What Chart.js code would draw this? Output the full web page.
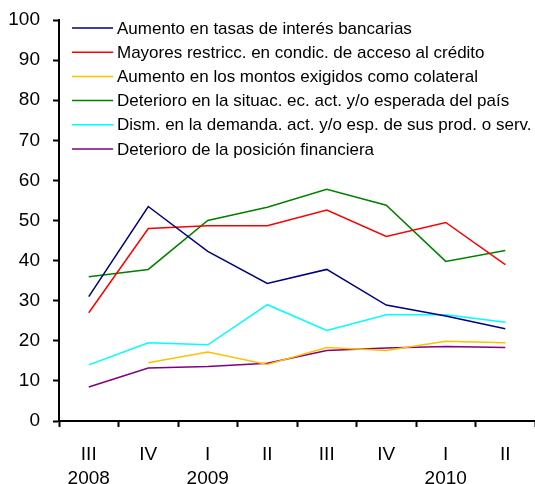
<!DOCTYPE html>
<html>
<head>
<meta charset="utf-8">
<script src="https://cdn.jsdelivr.net/npm/chart.js@4.4.0/dist/chart.umd.min.js"></script>
<style>
  body { margin: 0; background: #fff; }
  canvas { display: block; }
</style>
</head>
<body>
<canvas id="chart" width="535" height="484"></canvas>
<script>
// quarters (trimestre / año)
const quarters = [['III', '2008'], ['IV', ''], ['I', '2009'], ['II', ''], ['III', ''], ['IV', ''], ['I', '2010'], ['II', '']];

const tasas = [31, 53.5, 42.3, 34.3, 37.8, 28.9, 26.2, 23];
const restricc = [27, 48, 48.7, 48.7, 52.6, 46, 49.5, 39];
const colateral = [null, 14.5, 17.2, 14.1, 18.3, 17.6, 19.9, 19.5];
const deterioroPais = [36, 37.8, 50, 53.3, 57.8, 53.8, 39.8, 42.5];
const demanda = [14, 19.5, 19, 29, 22.6, 26.5, 26.5, 24.6];
const posicion = [8.5, 13.2, 13.6, 14.4, 17.6, 18.2, 18.6, 18.3];

const yTicks = [0, 10, 20, 30, 40, 50, 60, 70, 80, 90, 100];

const series = [
  { label: 'Aumento en tasas de interés bancarias', data: tasas, color: '#000080' },
  { label: 'Mayores restricc. en condic. de acceso al crédito', data: restricc, color: '#ff0000' },
  { label: 'Aumento en los montos exigidos como colateral', data: colateral, color: '#ffc000' },
  { label: 'Deterioro en la situac. ec. act. y/o esperada del país', data: deterioroPais, color: '#008000' },
  { label: 'Dism. en la demanda. act. y/o esp. de sus prod. o serv.', data: demanda, color: '#00ffff' },
  { label: 'Deterioro de la posición financiera', data: posicion, color: '#800080' }
];

const FONT = 'Arial, "Liberation Sans", sans-serif';

// legend drawn inside the plot, top left
const insideLegend = {
  id: 'insideLegend',
  afterDraw(chart) {
    const ctx = chart.ctx;
    const left = chart.chartArea.left + 13;
    let y = chart.chartArea.top + 8;
    ctx.save();
    ctx.font = '17px ' + FONT;
    ctx.textBaseline = 'middle';
    chart.data.datasets.forEach(ds => {
      ctx.strokeStyle = ds.borderColor;
      ctx.lineWidth = 1.5;
      ctx.beginPath();
      ctx.moveTo(left, y);
      ctx.lineTo(left + 41, y);
      ctx.stroke();
      ctx.fillStyle = '#000';
      ctx.fillText(ds.label, left + 45, y + 1);
      y += 24.2;
    });
    ctx.restore();
  }
};

new Chart(document.getElementById('chart'), {
  type: 'line',
  data: {
    labels: quarters,
    datasets: series.map(s => ({
      label: s.label,
      data: s.data,
      borderColor: s.color,
      backgroundColor: s.color,
      borderWidth: 1.5,
      pointRadius: 0,
      tension: 0,
      spanGaps: false
    }))
  },
  options: {
    responsive: false,
    animation: false,
    layout: { padding: { top: 20, right: 0, left: 0, bottom: 0 } },
    plugins: { legend: { display: false }, tooltip: { enabled: false } },
    scales: {
      x: {
        offset: true,
        grid: { offset: true, drawOnChartArea: false, tickLength: 6, tickColor: '#000', tickWidth: 2 },
        border: { color: '#000', width: 2 },
        ticks: { color: '#000', font: { size: 19, family: FONT, lineHeight: 1.3 }, padding: 15, maxRotation: 0, autoSkip: false },
        afterFit(scale) { scale.height = 63; }
      },
      y: {
        min: 0,
        max: 100,
        afterBuildTicks(scale) { scale.ticks = yTicks.map(v => ({ value: v })); },
        grid: { drawOnChartArea: false, tickLength: 6, tickColor: '#000', tickWidth: 2 },
        border: { color: '#000', width: 2 },
        ticks: { color: '#000', font: { size: 19, family: FONT }, padding: 13 },
        afterFit(scale) { scale.width = 59; scale.paddingTop = 0; scale.paddingBottom = 0; }
      }
    }
  },
  plugins: [insideLegend]
});
</script>
</body>
</html>
